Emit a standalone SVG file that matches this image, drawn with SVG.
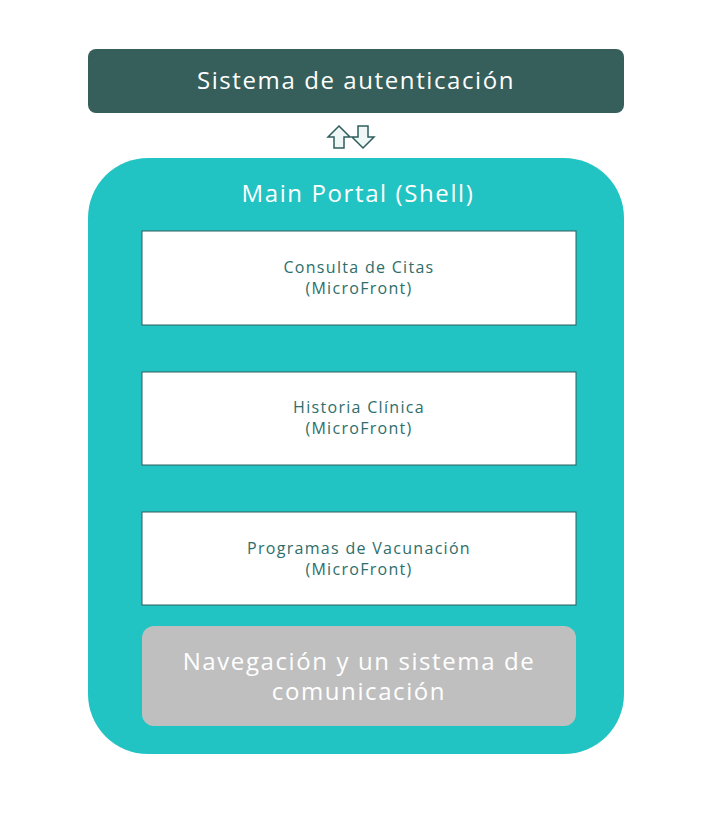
<svg xmlns="http://www.w3.org/2000/svg" width="726" height="813" viewBox="0 0 726 813">
<style>
.t{font-family:"Open Sans","Noto Sans",sans-serif;text-anchor:middle;letter-spacing:1.6px}
.w{fill:#fff}
.mf{fill:#fff;stroke:#2e5e5c;stroke-width:1}
.mt{fill:#2e6e6a;font-size:16px;letter-spacing:1.3px}
.ar{fill:#eef6f6;stroke:#2e5e5c;stroke-width:1.5}
</style>
<rect width="726" height="813" fill="#fff"/>
<g id="auth"><rect x="88" y="49" width="536" height="64" rx="8" fill="#365f5c"/>
<text class="t w" x="356" y="89" font-size="24">Sistema de autenticación</text></g>
<g id="connectors">
<path class="ar" d="M339,126 L350,137 L344,137 L344,148 L334,148 L334,137 L328,137 Z"/>
<path class="ar" d="M363,148 L374,137 L368,137 L368,126 L358,126 L358,137 L352,137 Z"/>
</g>
<g id="shell"><rect x="88" y="158" width="536" height="596" rx="60" fill="#22c3c3"/>
<text class="t w" x="358" y="202" font-size="24">Main Portal (Shell)</text></g>
<g id="citas"><rect class="mf" x="142" y="231" width="434" height="94"/>
<text class="t mt" x="359" y="273">Consulta de Citas</text><text class="t mt" x="359" y="294">(MicroFront)</text></g>
<g id="historia"><rect class="mf" x="142" y="372" width="434" height="93"/>
<text class="t mt" x="359" y="413">Historia Clínica</text><text class="t mt" x="359" y="434">(MicroFront)</text></g>
<g id="vacunacion"><rect class="mf" x="142" y="512" width="434" height="93"/>
<text class="t mt" x="359" y="554">Programas de Vacunación</text><text class="t mt" x="359" y="575">(MicroFront)</text></g>
<g id="nav"><rect x="142" y="626" width="434" height="100" rx="12" fill="#bfbfbf"/>
<text class="t w" x="359" y="670" font-size="24">Navegación y un sistema de</text>
<text class="t w" x="359" y="700" font-size="24">comunicación</text></g>
</svg>
